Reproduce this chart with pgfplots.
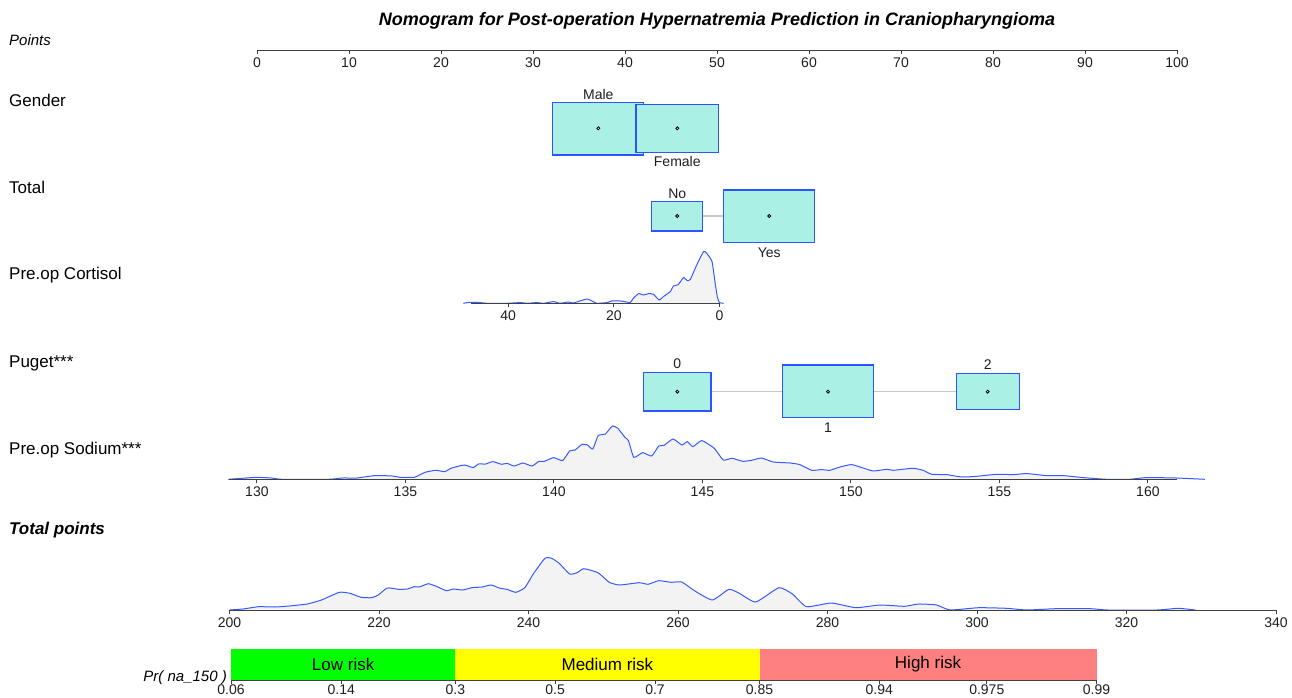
\documentclass[border=0pt]{standalone}
\usepackage{pgfplots}
\pgfplotsset{compat=1.18}
\usepackage{pgfplotstable}
\usepackage{fontspec}
\setmainfont{Liberation Sans}

\definecolor{axgray}{RGB}{64,64,64}
\definecolor{tickcol}{RGB}{30,30,30}
\definecolor{boxfill}{RGB}{170,240,228}
\definecolor{boxblue}{RGB}{45,85,255}
\definecolor{curveblue}{RGB}{55,90,255}
\definecolor{densfill}{RGB}{243,243,243}
\definecolor{connect}{RGB}{200,200,200}
\definecolor{lowg}{RGB}{0,255,0}
\definecolor{medy}{RGB}{255,255,0}
\definecolor{highr}{RGB}{255,128,128}

\newcommand\tickfont{\fontsize{14bp}{16bp}\selectfont}
\newcommand\rowfont{\fontsize{17bp}{20bp}\selectfont}
\newcommand\smallit{\fontsize{15bp}{18bp}\selectfont\itshape}
\newcommand\titlefont{\fontsize{18bp}{21bp}\selectfont\bfseries\itshape}

\tikzset{rowlabel/.style={anchor=west, inner sep=0pt, font=\rowfont}}

\pgfplotsset{
  pageaxis/.style={scale only axis, anchor=south west, hide axis, clip=false,
    xmin=0, xmax=1292, ymin=0, ymax=697, y dir=reverse},
  scaleaxis/.style={scale only axis, anchor=south west, clip=false, axis on top,
    axis x line=bottom, axis y line=none, ytick=\empty,
    x axis line style={-, draw=axgray, line width=0.9bp},
    every outer x axis line/.append style={-},
    xtick style={draw=axgray, line width=0.9bp},
    tick align=outside, major tick length=4bp,
    xticklabel style={font=\tickfont, text=tickcol},
    /pgf/number format/assume math mode=true,
    scaled x ticks=false,
    ymin=0, ymax=60, height=60bp},
  dens/.style={draw=none, fill=densfill, smooth, tension=0.3},
  densline/.style={draw=curveblue, line width=1bp, smooth, tension=0.3},
  catbox/.style={fill=boxfill, draw=boxblue, line width=1.3bp},
  conn/.style={draw=connect, line width=1.3bp},
}

% Pre-op cortisol density (value, height in px)
\pgfplotstableread{
v h
48.5 0
47.2 1
45.3 0.7
44.1 0
40.3 0
37.7 0.7
36.5 0
34.6 0.7
33.3 0
31.4 1.7
30.2 0
28.6 1.3
27.7 0.3
25.1 4.3
23.9 1.7
23.2 0
21.3 0.7
20.4 2.3
18.8 2.3
17.9 1.7
16.9 0.7
16.3 5
15.3 9.7
14.4 8.3
13.4 9.7
12.5 9
11.4 3.3
10.6 6.7
9.3 11.7
8.7 17.3
7.8 18.7
6.8 25.7
6.1 22.7
5.5 24
4.3 38.3
3.0 51.7
2.4 50
1.4 41.7
0.8 20
0.4 6.7
0.0 0.7
-0.8 0
}\cortisol

% Pre-op sodium density
\pgfplotstableread{
v h
129.04 0
129.64 1.3
130.0 2
130.49 1.3
130.84 0
132.41 0
132.89 1.3
133.37 1.3
133.97 3.7
134.57 3.3
134.81 2
135.3 2
135.66 7
136.02 9
136.32 7.7
136.56 11.3
136.98 14.3
137.28 11.7
137.46 15.3
137.7 15.3
137.94 17.7
138.24 15
138.42 16
138.66 13.3
138.96 16.3
139.26 13.3
139.5 18
139.68 18
139.99 21.7
140.29 18.7
140.53 28.3
140.71 29.3
140.95 35
141.13 34.3
141.31 30.3
141.49 43.7
141.73 45.3
141.97 53.3
142.15 51
142.39 42
142.51 38.7
142.69 22
142.99 26.7
143.29 23.3
143.53 33.3
143.71 34
144.01 40.3
144.31 34.3
144.49 37.7
144.68 32.7
144.98 38.7
145.4 31
145.7 19.3
146.0 21
146.36 18
146.66 19
146.99 21.3
147.38 17.3
147.95 16.3
148.28 14.7
148.68 9
149.01 9.7
149.29 9
149.63 12.3
150.02 14.7
150.41 11.3
150.75 8.3
151.2 10
151.42 9
151.65 9.7
152.1 11
152.43 9
152.72 5
153.22 4.7
153.73 2.3
154.23 3
154.91 5
155.47 4.7
155.92 5.7
156.59 3.7
157.15 3.7
157.82 1.7
158.61 0
159.39 0
159.95 1.7
160.96 1.3
161.92 0
}\sodium

% Total points density
\pgfplotstableread{
v h
200.0 0
201.8 1
203.9 3.3
206.1 3
208.0 4
210.4 6
212.3 10
214.7 17.7
216.1 16.7
217.6 12.7
219.0 12.3
219.9 15
221.1 22
222.6 20.7
223.8 21
224.7 23.3
225.4 23
226.6 26.3
227.8 23.3
229.0 19.3
230.0 21
231.2 20
232.4 22.3
233.8 23
235.0 25
236.2 21.7
237.1 20.7
238.3 17.7
239.5 22.3
240.7 36.7
242.2 51.7
243.1 51.7
244.1 46.7
245.5 36
246.5 37.3
247.4 41.3
249.3 37.3
250.8 27.7
252.2 25
254.8 27.3
256.0 25.7
257.4 29.3
259.1 27.7
260.5 28
262.2 19.3
264.6 10
266.8 20.7
268.2 16.7
270.4 8
273.5 22.3
275.3 16
277.2 3.3
280.5 7
283.8 2.3
287.0 5
290.3 3.7
292.2 6
294.6 5
296.4 0
300.2 2.3
303.9 1.7
306.7 0
310.5 1.3
315.2 1.3
317.5 0
324.1 0
326.9 1.7
329.2 0
}\totalpts

\begin{document}
\begin{tikzpicture}
% ---------- page axis: title and row labels ----------
\begin{axis}[pageaxis, name=page, width=1292bp, height=697bp, at={(0bp,0bp)}]
\node[font=\titlefont] at (717,21) {Nomogram for Post-operation Hypernatremia Prediction in Craniopharyngioma};
\node[rowlabel, font=\smallit] at (9,40) {Points};
\node[rowlabel] at (9,100) {Gender};
\node[rowlabel] at (9,187) {Total};
\node[rowlabel] at (9,275) {Pre.op Cortisol};
\node[rowlabel] at (9,363) {Puget***};
\node[rowlabel] at (9,450) {Pre.op Sodium***};
\node[rowlabel, font=\rowfont\bfseries\itshape] at (9,530) {Total points};
\node[anchor=east, inner sep=0pt, font=\smallit] at (227,678) {Pr( na\_150 )};
\end{axis}

% ---------- Points scale ----------
\begin{axis}[scaleaxis, at={(257bp,647bp)}, width=920bp, height=10bp, ymax=10,
  xmin=0, xmax=100, xtick={0,10,...,100}]
\end{axis}

% ---------- categorical rows in points space ----------
\begin{axis}[pageaxis, at={(257bp,0bp)}, width=920bp, height=697bp, xmin=0, xmax=100]
% Gender
\addplot[catbox] coordinates {(32.14,102.3) (42.03,102.3) (42.03,155) (32.14,155)} -- cycle;
\addplot[catbox] coordinates {(41.20,104.3) (50.14,104.3) (50.14,152.3) (41.20,152.3)} -- cycle;
% Total
\addplot[conn] coordinates {(48.45,216) (50.73,216)};
\addplot[catbox] coordinates {(42.90,201.7) (48.45,201.7) (48.45,231) (42.90,231)} -- cycle;
\addplot[catbox] coordinates {(50.73,190) (60.62,190) (60.62,242.7) (50.73,242.7)} -- cycle;
% Puget
\addplot[conn] coordinates {(49.35,391.7) (57.10,391.7)};
\addplot[conn] coordinates {(66.99,391.7) (76.05,391.7)};
\addplot[catbox] coordinates {(41.99,372.3) (49.35,372.3) (49.35,411) (41.99,411)} -- cycle;
\addplot[catbox] coordinates {(57.10,365) (66.99,365) (66.99,417.7) (57.10,417.7)} -- cycle;
\addplot[catbox] coordinates {(76.05,373.3) (82.86,373.3) (82.86,409.7) (76.05,409.7)} -- cycle;
% centre dots
\addplot[only marks, mark=*, mark size=1.5bp, mark options={fill=white, draw=black, line width=0.8bp}]
  coordinates {(37.10,128.3) (45.68,128.3) (45.68,216) (55.68,216) (45.68,391.7) (62.07,391.7) (79.42,391.7)};
% category labels
\node[font=\tickfont, text=tickcol] at (37.10,94.3) {Male};
\node[font=\tickfont, text=tickcol] at (45.68,161.7) {Female};
\node[font=\tickfont, text=tickcol] at (45.68,193.3) {No};
\node[font=\tickfont, text=tickcol] at (55.68,252.3) {Yes};
\node[font=\tickfont, text=tickcol] at (45.68,363.7) {0};
\node[font=\tickfont, text=tickcol] at (62.07,427.3) {1};
\node[font=\tickfont, text=tickcol] at (79.42,364.7) {2};
\end{axis}

% ---------- Pre.op Cortisol ----------
\begin{axis}[scaleaxis, at={(471bp,393.7bp)}, width=248.4bp,
  xmin=0, xmax=47.05, x dir=reverse, xtick={0,20,40}]
\addplot[dens] table[x=v, y=h] {\cortisol} -- cycle;
\addplot[densline] table[x=v, y=h] {\cortisol};
\end{axis}

% ---------- Pre.op Sodium ----------
\begin{axis}[scaleaxis, at={(229bp,217.7bp)}, width=948bp,
  xmin=129.06, xmax=160.98, xtick={130,135,...,160}]
\addplot[dens] table[x=v, y=h] {\sodium} -- cycle;
\addplot[densline] table[x=v, y=h] {\sodium};
\end{axis}

% ---------- Total points ----------
\begin{axis}[scaleaxis, at={(229.5bp,87bp)}, width=1046.5bp,
  xmin=200, xmax=340, xtick={200,220,...,340}]
\addplot[dens] table[x=v, y=h] {\totalpts} -- cycle;
\addplot[densline] table[x=v, y=h] {\totalpts};
\end{axis}

% ---------- Probability (logit scale) with risk bands ----------
\begin{axis}[scaleaxis, at={(231bp,17bp)}, width=865.5bp, height=31bp, ymax=31,
  xmin=-2.7515, xmax=4.5951,
  xtick={-2.7515,-1.8153,-0.8473,0,0.8473,1.7346,2.7515,3.6636,4.5951},
  xticklabels={0.06,0.14,0.3,0.5,0.7,0.85,0.94,0.975,0.99},
  xticklabel style={yshift=2.5bp}]
\addplot[fill=lowg, draw=none] coordinates {(-2.7515,0) (-0.8473,0) (-0.8473,31) (-2.7515,31)} -- cycle;
\addplot[fill=medy, draw=none] coordinates {(-0.8473,0) (1.7346,0) (1.7346,31) (-0.8473,31)} -- cycle;
\addplot[fill=highr, draw=none] coordinates {(1.7346,0) (4.5951,0) (4.5951,31) (1.7346,31)} -- cycle;
\node[font=\rowfont] at (-1.7994,15.5) {Low risk};
\node[font=\rowfont] at (0.4437,15.5) {Medium risk};
\node[font=\rowfont] at (3.165,15.5) {High risk};
\end{axis}

\pgfresetboundingbox
\useasboundingbox (page.south west) rectangle (page.north east);
\end{tikzpicture}
\end{document}
